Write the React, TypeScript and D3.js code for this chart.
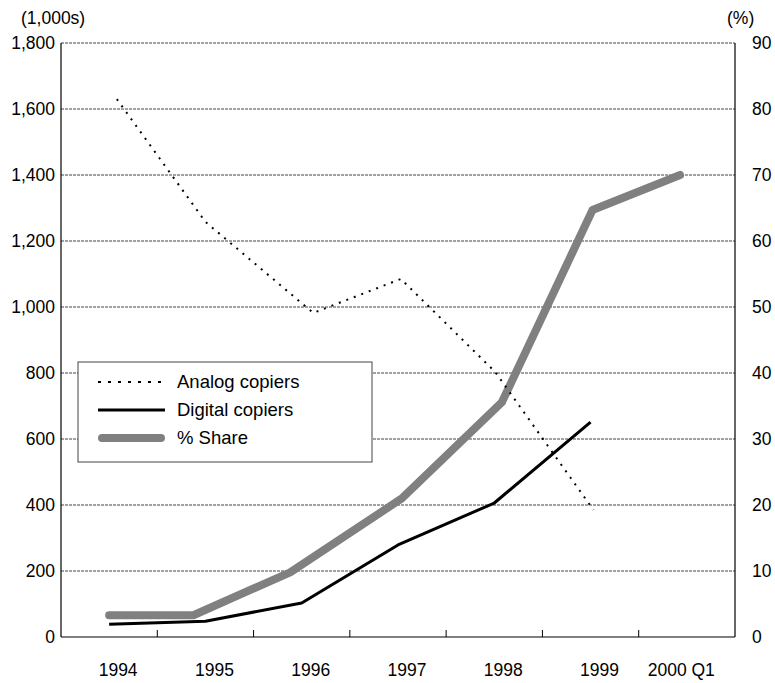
import React from "react";
import * as d3 from "d3";

const categories = ["1994", "1995", "1996", "1997", "1998", "1999", "2000 Q1"];
const leftTicks = [0, 200, 400, 600, 800, 1000, 1200, 1400, 1600, 1800];
const rightTicks = [0, 10, 20, 30, 40, 50, 60, 70, 80, 90];

// x positions in category-index units (0..7 across the axis)
const analogX = [0.58, 1.5, 2.62, 3.53, 4.51, 5.53];
const analogValues = [1630, 1258, 982, 1085, 803, 385];
const digitalX = [0.5, 1.5, 2.5, 3.5, 4.5, 5.5];
const digitalValues = [39, 48, 103, 279, 406, 651];
const shareX = [0.5, 1.375, 2.38, 3.54, 4.58, 5.52, 6.43];
const shareValues = [3.3, 3.3, 9.8, 21.0, 35.6, 64.7, 70.0];

const W = 775;
const H = 683;
const m = { left: 61, right: 735, top: 43, bottom: 637 };
const FONT = "'Liberation Sans', Arial, sans-serif";
const AXIS_FS = 17.5;
const LEGEND_FS = 18.5;

export default function App() {
  const x = d3.scaleLinear().domain([0, categories.length]).range([m.left, m.right]);
  const yL = d3.scaleLinear().domain([0, 1800]).range([m.bottom, m.top]);
  const yR = d3.scaleLinear().domain([0, 90]).range([m.bottom, m.top]);

  const lineL = d3
    .line<[number, number]>()
    .x((d) => x(d[0]))
    .y((d) => yL(d[1]));
  const lineR = d3
    .line<[number, number]>()
    .x((d) => x(d[0]))
    .y((d) => yR(d[1]));

  const analogPts = analogX.map((v, i) => [v, analogValues[i]] as [number, number]);
  const digitalPts = digitalX.map((v, i) => [v, digitalValues[i]] as [number, number]);
  const sharePts = shareX.map((v, i) => [v, shareValues[i]] as [number, number]);

  const legendItems = [
    { label: "Analog copiers", stroke: "#000", width: 2, dash: "3,7", cap: "butt" },
    { label: "Digital copiers", stroke: "#000", width: 3, dash: undefined, cap: "butt" },
    { label: "% Share", stroke: "#808080", width: 8, dash: undefined, cap: "round" },
  ];

  return (
    <svg
      width={W}
      height={H}
      style={{ position: "absolute", left: 0, top: 0, background: "#fff" }}
      fontFamily={FONT}
    >
      {/* gridlines */}
      {leftTicks
        .filter((t) => t > 0)
        .map((t) => (
          <line
            key={"g" + t}
            x1={m.left}
            x2={m.right}
            y1={yL(t)}
            y2={yL(t)}
            stroke="#444"
            strokeWidth={1}
            strokeDasharray="3,1"
          />
        ))}
      {/* axes */}
      <line x1={m.left} x2={m.left} y1={m.top} y2={m.bottom} stroke="#000" strokeWidth={1.2} />
      <line x1={m.right} x2={m.right} y1={m.top} y2={m.bottom} stroke="#000" strokeWidth={1.2} />
      <line x1={m.left} x2={m.right} y1={m.bottom} y2={m.bottom} stroke="#000" strokeWidth={1.2} />
      {d3.range(1, categories.length).map((i) => (
        <line key={"t" + i} x1={x(i)} x2={x(i)} y1={m.bottom} y2={m.bottom - 7} stroke="#000" strokeWidth={1} />
      ))}

      {/* left tick labels */}
      {leftTicks.map((t) => (
        <text key={"l" + t} x={55} y={yL(t)} dy="0.35em" textAnchor="end" fontSize={AXIS_FS} fill="#000">
          {d3.format(",")(t)}
        </text>
      ))}
      {/* right tick labels */}
      {rightTicks.map((t) => (
        <text key={"r" + t} x={752} y={yR(t)} dy="0.35em" textAnchor="start" fontSize={AXIS_FS} fill="#000">
          {t}
        </text>
      ))}
      {/* x labels */}
      {categories.map((c, i) => (
        <text
          key={"x" + c}
          x={c.includes(" ") ? x(i) + 9 : x(i + 0.5) + 9}
          y={676}
          textAnchor={c.includes(" ") ? "start" : "middle"}
          fontSize={AXIS_FS}
          fill="#000"
        >
          {c}
        </text>
      ))}
      <text x={21} y={24} fontSize={AXIS_FS} fill="#000">(1,000s)</text>
      <text x={727} y={24} fontSize={AXIS_FS} fill="#000">(%)</text>

      {/* series */}
      <path
        d={lineR(sharePts) || ""}
        fill="none"
        stroke="#808080"
        strokeWidth={8}
        strokeLinecap="round"
        strokeLinejoin="round"
      />
      <path d={lineL(digitalPts) || ""} fill="none" stroke="#000" strokeWidth={3} strokeLinejoin="round" />
      <path
        d={lineL(analogPts) || ""}
        fill="none"
        stroke="#000"
        strokeWidth={2}
        strokeDasharray="2,6"
      />

      {/* legend */}
      <rect x={78} y={362} width={294} height={100} fill="#fff" stroke="#444" strokeWidth={1} />
      {legendItems.map((it, i) => {
        const cy = 382 + i * 28;
        return (
          <g key={it.label}>
            <line
              x1={it.cap === "round" ? 102 : 98}
              x2={it.cap === "round" ? 161 : 165}
              y1={cy}
              y2={cy}
              stroke={it.stroke}
              strokeWidth={it.width}
              strokeDasharray={it.dash}
              strokeLinecap={it.cap as any}
            />
            <text x={177} y={cy} dy="0.35em" fontSize={LEGEND_FS} fill="#000">
              {it.label}
            </text>
          </g>
        );
      })}
    </svg>
  );
}
